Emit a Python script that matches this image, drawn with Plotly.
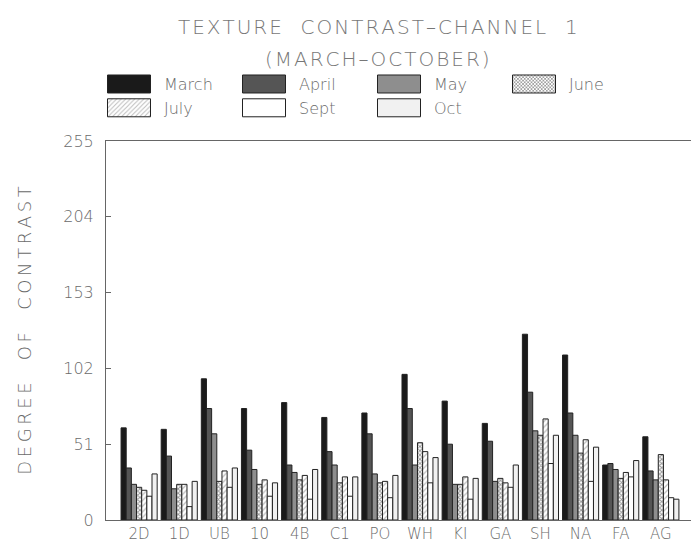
import plotly.graph_objects as go

categories = ["2D", "1D", "UB", "10", "4B", "C1", "PO", "WH", "KI", "GA", "SH", "NA", "FA", "AG"]
march = [62, 61, 95, 75, 79, 69, 72, 98, 80, 65, 125, 111, 37, 56]
april = [35, 43, 75, 47, 37, 46, 58, 75, 51, 53, 86, 72, 38, 33]
may = [24, 21, 58, 34, 32, 37, 31, 37, 24, 26, 60, 57, 34, 27]
june = [22, 24, 26, 24, 27, 25, 25, 52, 24, 28, 57, 45, 28, 44]
july = [20, 24, 33, 27, 30, 29, 26, 46, 29, 25, 68, 54, 32, 27]
sept = [16, 9, 22, 16, 14, 16, 15, 25, 14, 22, 38, 26, 29, 15]
october = [31, 26, 35, 25, 34, 29, 30, 42, 28, 37, 57, 49, 40, 14]
y_ticks = [0, 51, 102, 153, 204, 255]

FONT = "DejaVu Sans"
TXT = "#6a6a6a"


def spaced(s, gap="\u2009"):
    return gap.join("\u00a0" if c == " " else c for c in s)


series = [
    ("March", march, dict(color="#1a1a1a")),
    ("April", april, dict(color="#555555")),
    ("May", may, dict(color="#8e8e8e")),
    ("June", june, dict(color="white", pattern=dict(shape="x", size=3, solidity=0.55, fgcolor="#333333", bgcolor="#ffffff"))),
    ("July", july, dict(color="white", pattern=dict(shape="/", size=4, solidity=0.3, fgcolor="#777777", bgcolor="#ffffff"))),
    ("Sept", sept, dict(color="#ffffff")),
    ("Oct", october, dict(color="#f1f1f1")),
]

fig = go.Figure()
for name, vals, mk in series:
    mk = dict(mk)
    mk["line"] = dict(color="#222222", width=1)
    fig.add_trace(go.Bar(x=categories, y=vals, name=name, marker=mk))

fig.update_layout(
    width=699, height=544,
    paper_bgcolor="white", plot_bgcolor="white",
    margin=dict(l=98, r=2, t=133, b=32),
    barmode="group", bargap=0.1, bargroupgap=0,
    font=dict(family=FONT, color=TXT, size=14, weight=300),
    legend=dict(
        orientation="h", x=0.0, xanchor="left", y=1.195, yanchor="top",
        entrywidth=72, entrywidthmode="pixels", itemwidth=48,
        font=dict(family=FONT, size=16, color=TXT, weight=300),
        traceorder="normal", bgcolor="rgba(0,0,0,0)",
    ),
    showlegend=True,
    annotations=[
        dict(text=spaced("TEXTURE  CONTRAST\u2013CHANNEL  1", "\u200a"), xref="paper", yref="paper",
             x=(369 - 98) / 597, y=(512 - 19) / 379, xanchor="center", yanchor="middle",
             showarrow=False, font=dict(family=FONT, size=20, color="#777777", weight=200)),
        dict(text=spaced("(MARCH\u2013OCTOBER)", "\u200a"), xref="paper", yref="paper",
             x=(369 - 98) / 597, y=(512 - 51) / 379, xanchor="center", yanchor="middle",
             showarrow=False, font=dict(family=FONT, size=20, color="#777777", weight=200)),
    ],
)

fig.update_yaxes(
    range=[0, 255], tickvals=y_ticks, ticktext=[str(v) for v in y_ticks],
    ticks="inside", ticklen=5, tickcolor="#666666",
    showline=True, linecolor="#666666", linewidth=1, mirror=True,
    showgrid=False, zeroline=False,
    tickfont=dict(family=FONT, size=16, color=TXT),
    ticklabelstandoff=8,
    title=dict(text=spaced("DEGREE  OF  CONTRAST"), standoff=26,
               font=dict(family=FONT, size=18, color=TXT)),
)
fig.update_xaxes(
    range=[-0.825, 14.1],
    showline=True, linecolor="#666666", linewidth=1, mirror=True,
    showgrid=False, ticks="",
    tickfont=dict(family=FONT, size=15, color=TXT),
)

post = """
var gd = document.getElementById('{plot_id}');
function bigSwatch(){
  gd.querySelectorAll('g.legendpoints path').forEach(function(p){
    p.setAttribute('d', 'M15.5,9H-27.5V-9H15.5Z');
  });
}
bigSwatch();
gd.on('plotly_afterplot', bigSwatch);
setTimeout(bigSwatch, 50);
setTimeout(bigSwatch, 300);
"""
fig.write_html("out.html", post_script=post)
